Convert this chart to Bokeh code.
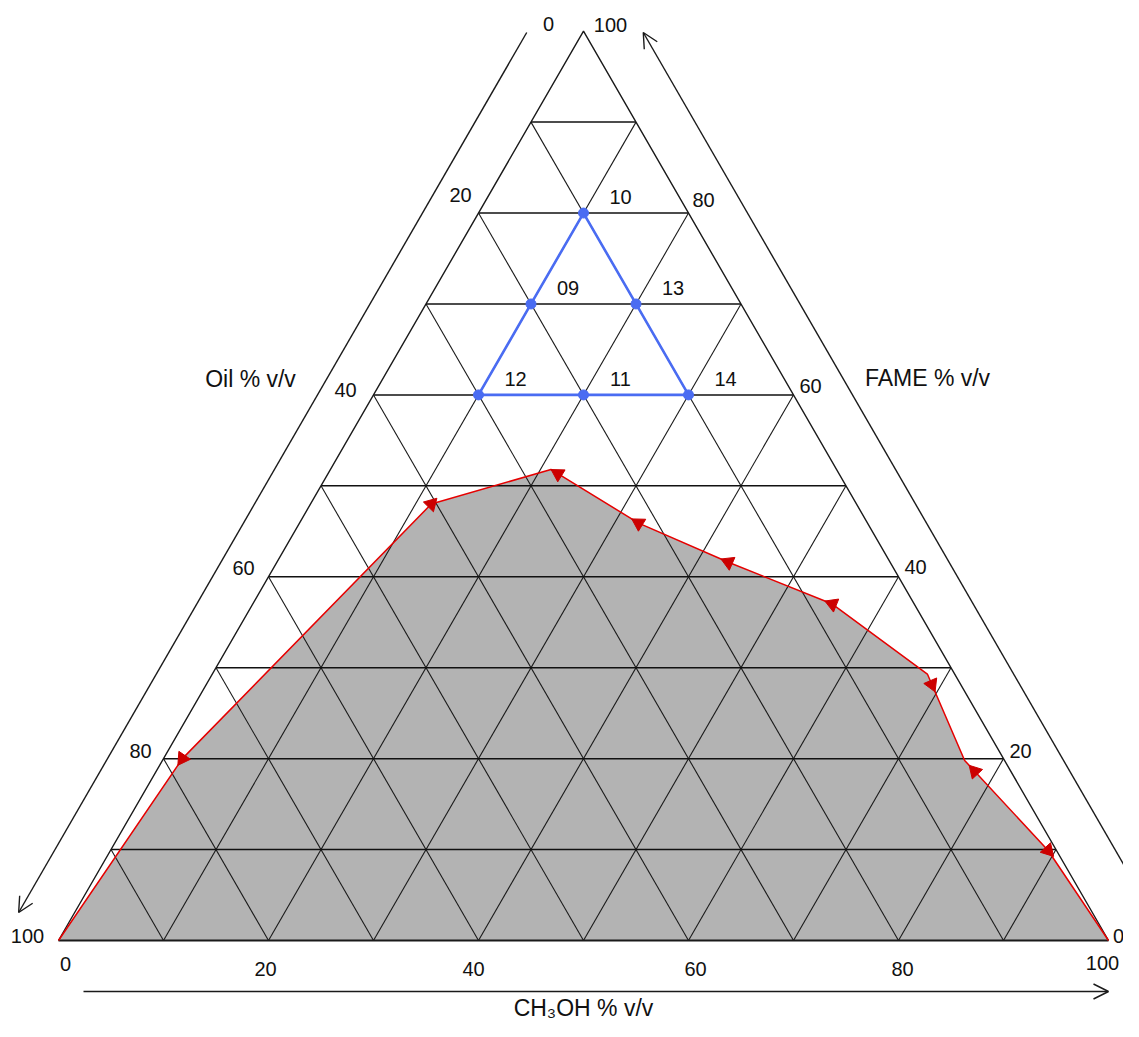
import math
from bokeh.plotting import figure
from bokeh.models import Range1d, Arrow, OpenHead, Label
from bokeh.embed import file_html
from bokeh.resources import INLINE
from bokeh.core.properties import value

# ---------------- data ----------------
tick_values = [0, 20, 40, 60, 80, 100]
tick_labels = ["0", "20", "40", "60", "80", "100"]

# composition path (CH3OH %, FAME %), Oil = 100 - CH3OH - FAME
path_ch3oh = [0, 1.8, 11.5, 21.0, 32.3, 43.0, 55.2, 68.1, 76.4, 89.3, 100]
path_fame = [0, 20.0, 48.0, 51.8, 45.9, 41.6, 37.0, 29.3, 19.8, 9.9, 0]

# direction arrows on the path: segment index, fraction along it, direction
arrow_segment = [0, 1, 3, 3, 4, 5, 7, 8, 8]
arrow_frac = [1.0, 1.0, 0.08, 1.0, 1.0, 1.0, 0.12, 0.12, 1.0]
arrow_dir = [-1, 1, -1, -1, -1, -1, 1, -1, 1]

# experimental points
exp_names = ["10", "09", "13", "12", "11", "14"]
exp_ch3oh = [10, 10, 20, 10, 20, 30]
exp_fame = [80, 70, 70, 60, 60, 60]
exp_oil = [10, 20, 10, 30, 20, 10]
exp_outline = [0, 1, 3, 4, 5, 2, 0]

# ---------------- geometry helpers ----------------
S = math.sqrt(3) / 2.0
PX = 10.5  # pixels per data unit


def tern(c, f):
    return c + f / 2.0, f * S


W, H = 1123, 1021
x0_px, y0_px = 58, 81  # canvas position of the Oil vertex (from left / bottom)

p = figure(width=W, height=H, output_backend="svg", toolbar_location=None,
           x_range=Range1d(-x0_px / PX, (W - x0_px) / PX),
           y_range=Range1d(-y0_px / PX, (H - y0_px) / PX),
           min_border=0, x_axis_location=None, y_axis_location=None)
p.outline_line_color = None
p.xgrid.visible = False
p.ygrid.visible = False
p.background_fill_color = "white"

FONT = "Liberation Sans"
TXT = "#111111"

# ---------------- shaded region ----------------
px_, py_ = zip(*[tern(c, f) for c, f in zip(path_ch3oh, path_fame)])
px_, py_ = list(px_), list(py_)
p.patch(px_, py_, fill_color="#b3b3b3", line_color=None)

# ---------------- grid ----------------
hx, hy, dx, dy = [], [], [], []
for k in range(1, 10):
    v = 10 * k
    a, b = tern(0, v), tern(100 - v, v)
    hx.append([a[0], b[0]]); hy.append([a[1], b[1]])
    a, b = tern(v, 0), tern(v, 100 - v)
    dx.append([a[0], b[0]]); dy.append([a[1], b[1]])
    a, b = tern(100 - v, 0), tern(0, 100 - v)
    dx.append([a[0], b[0]]); dy.append([a[1], b[1]])
p.multi_line(dx, dy, line_color="#1a1a1a", line_width=1.1)
p.multi_line(hx, hy, line_color="#111111", line_width=1.5)

# triangle edges
A, B, C = tern(0, 0), tern(100, 0), tern(0, 100)
p.line([A[0], C[0], B[0]], [A[1], C[1], B[1]], line_color="#1a1a1a", line_width=1.4)
p.line([A[0], B[0]], [A[1], B[1]], line_color="#1a1a1a", line_width=2.0)

# ---------------- red path ----------------
p.line(px_, py_, line_color="#e60000", line_width=1.5)
ax, ay, aang = [], [], []
for s, t, d in zip(arrow_segment, arrow_frac, arrow_dir):
    x1, y1 = px_[s], py_[s]
    x2, y2 = px_[s + 1], py_[s + 1]
    ax.append(x1 + (x2 - x1) * t)
    ay.append(y1 + (y2 - y1) * t)
    th = math.atan2((y2 - y1) * d, (x2 - x1) * d)
    aang.append(th - math.pi / 2)
p.scatter(ax, ay, marker="triangle", size=14, angle=aang,
          fill_color="#cc0000", line_color="#cc0000")

# ---------------- experimental design ----------------
ex, ey = zip(*[tern(c, f) for c, f in zip(exp_ch3oh, exp_fame)])
p.line([ex[i] for i in exp_outline], [ey[i] for i in exp_outline],
       line_color="#4a6cf2", line_width=2.6)
p.scatter(list(ex), list(ey), size=10, fill_color="#4a6cf2", line_color="#4a6cf2")
p.text([x + 37 / PX for x in ex], [y + 16 / PX for y in ey], text=exp_names,
       text_font=value(FONT), text_font_size="20px", text_color=TXT,
       text_align="center", text_baseline="middle")

# ---------------- tick labels ----------------
def place(points, offs):
    xs = [pt[0] + o[0] / PX for pt, o in zip(points, offs)]
    ys = [pt[1] - o[1] / PX for pt, o in zip(points, offs)]
    return xs, ys

# Oil along left edge (CH3OH = 0)
oil_pts = [tern(0, 100 - v) for v in tick_values]
oil_off = [(-35, -7), (-18, -18), (-28, -5), (-25, -9), (-23, -8), (-31, -5)]
# FAME along right edge (Oil = 0)
fame_pts = [tern(100 - v, v) for v in tick_values]
fame_off = [(10, -5), (17, -8), (17, -10), (17, -9), (15, -13), (27, -6)]
# CH3OH along bottom edge (FAME = 0)
ch_pts = [tern(v, 0) for v in tick_values]
ch_off = [(7, 23), (-3, 28), (-5, 28), (7, 28), (4, 28), (-6, 22)]

for pts, offs in ((oil_pts, oil_off), (fame_pts, fame_off), (ch_pts, ch_off)):
    xs, ys = place(pts, offs)
    p.text(xs, ys, text=tick_labels, text_font=value(FONT), text_font_size="20px",
           text_color=TXT, text_align="center", text_baseline="middle")

# ---------------- axis arrows ----------------
g_left, g_right, g_bot = 56 / PX, 59 / PX, 51 / PX
yt, yb = 908 / PX, 28 / PX
head = dict(size=15, line_width=1.4, line_color="#1a1a1a")
p.add_layout(Arrow(end=OpenHead(**head),
                   x_start=yt / math.sqrt(3) - g_left, y_start=yt,
                   x_end=yb / math.sqrt(3) - g_left, y_end=yb,
                   line_width=1.4, line_color="#1a1a1a"))
p.add_layout(Arrow(end=OpenHead(**head),
                   x_start=100 + 1 / math.sqrt(3) + g_right, y_start=-1,
                   x_end=100 - yt / math.sqrt(3) + g_right, y_end=yt,
                   line_width=1.4, line_color="#1a1a1a"))
p.add_layout(Arrow(end=OpenHead(**head),
                   x_start=25 / PX, y_start=-g_bot, x_end=100, y_end=-g_bot,
                   line_width=1.4, line_color="#1a1a1a"))

# ---------------- axis titles ----------------
for txt, sx, sy, base in (("Oil % v/v", 250, 643, "middle"),
                          ("FAME % v/v", 927, 644, "middle"),
                          ("CH\u2083OH % v/v", 583, 1, "bottom")):
    p.add_layout(Label(x=sx, y=sy, x_units="screen", y_units="screen", text=txt,
                       text_font=FONT, text_font_size="23px", text_color=TXT,
                       text_align="center", text_baseline=base))

open("out.html", "w").write(file_html(p, INLINE))
